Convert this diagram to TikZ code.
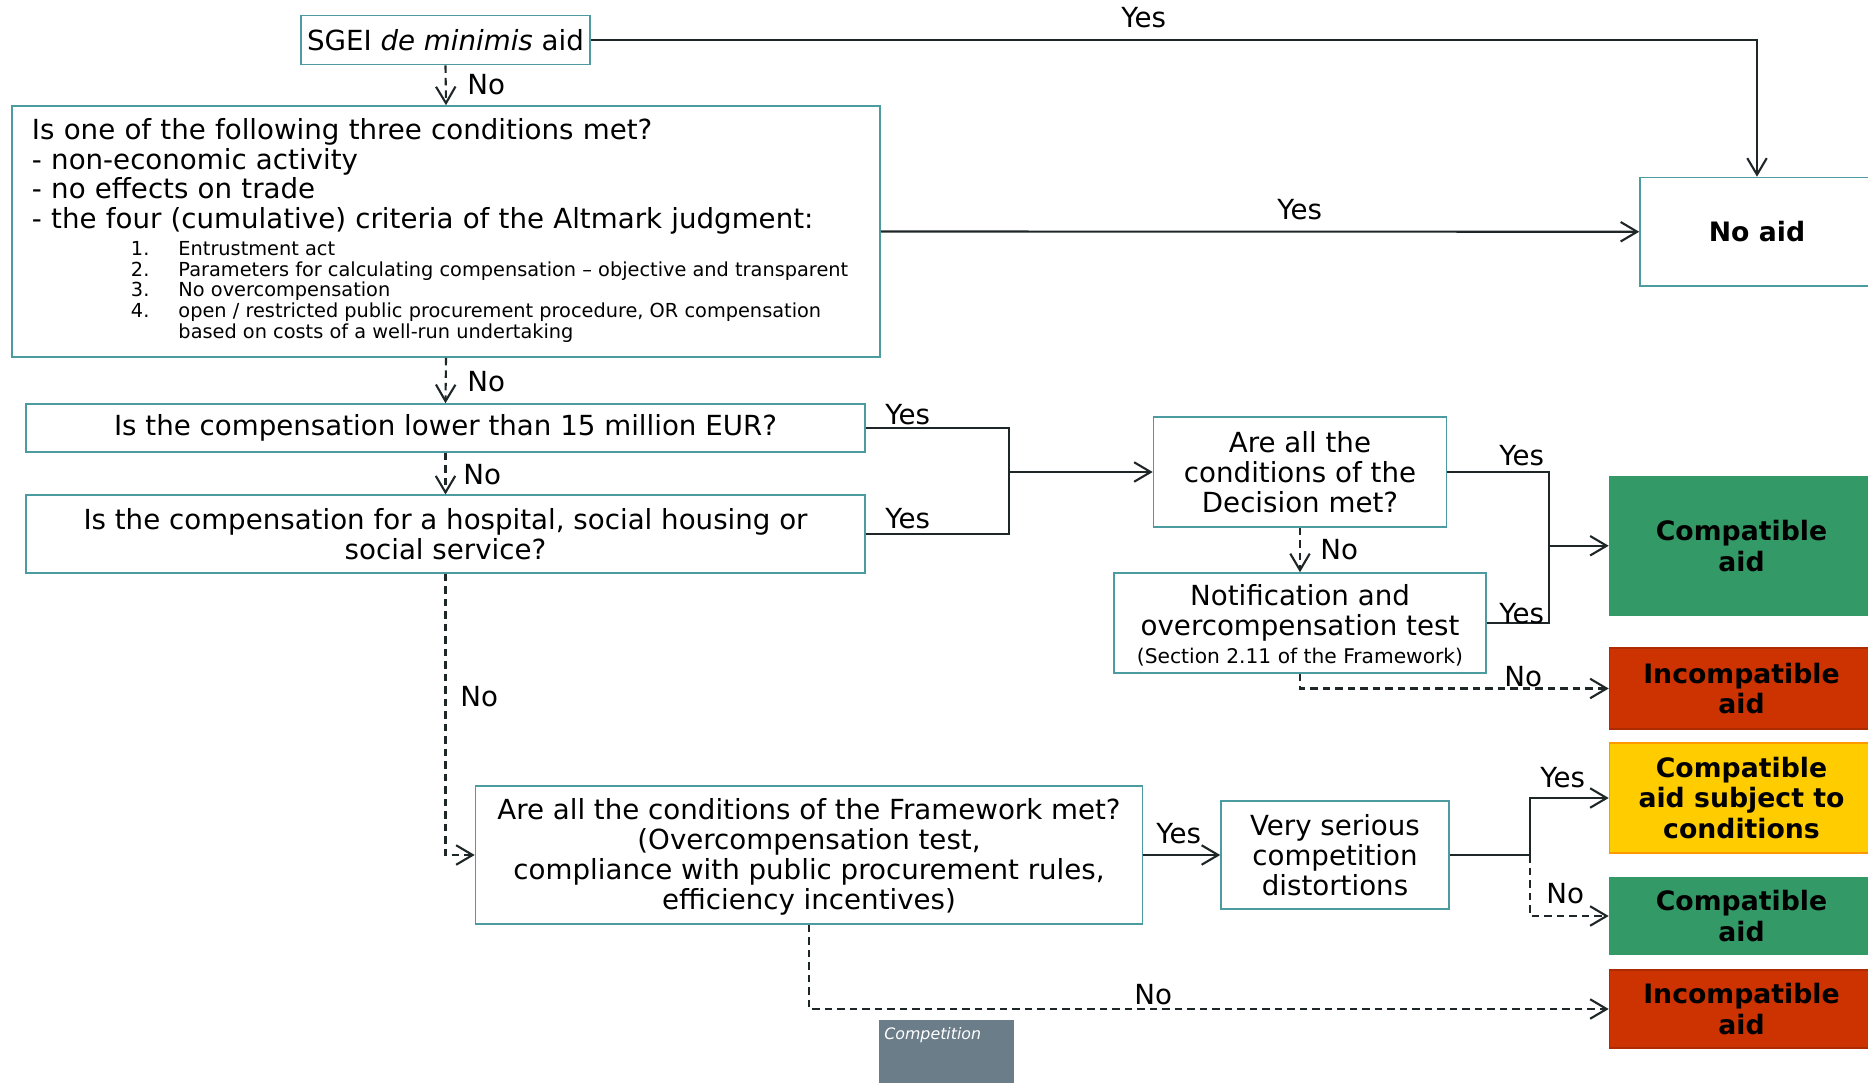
\documentclass[tikz,border=0pt]{standalone}
\usepackage{fontspec}
\setmainfont{DejaVu Sans}
\usetikzlibrary{arrows.meta}

\definecolor{frameline}{RGB}{75,155,160}
\definecolor{okgreen}{RGB}{51,153,102}
\definecolor{badred}{RGB}{204,51,0}
\definecolor{condyellow}{RGB}{255,204,0}
\definecolor{condorange}{RGB}{255,153,0}
\definecolor{slategray}{RGB}{107,125,137}
\definecolor{wire}{RGB}{30,38,40}

\begin{document}
\begin{tikzpicture}[x = 0.2mm, y = -0.2mm, font = \fontsize{15.75}{17}\selectfont,
        box/.style = {draw = frameline, line width = 0.9pt, align = center, inner sep = 0pt},
        verdict/.style = {draw, line width = 0.9pt, align = center, inner sep = 0pt,
                font = \fontsize{15.2}{17.6}\selectfont\bfseries, minimum width = 52.8mm},
        yesline/.style = {draw = wire, line width = 1.2pt, -{Straight Barb[length = 3.3mm, width = 3.9mm]}},
        noline/.style = {yesline, dash pattern = on 1.5mm off 1mm},
        link/.style = {draw = wire, line width = 1.2pt},
        lbl/.style = {anchor = west, inner sep = 0pt}]
        \useasboundingbox (0,0) rectangle (1868,1082);

        \node [box, minimum width = 57.8mm, minimum height = 9.8mm] (sgei) at (445.5,40) {SGEI \textit{de minimis} aid};

        \node [box, minimum width = 173.6mm, minimum height = 50.2mm, inner xsep = 4mm,
                text width = 165.6mm, align = left] (cond) at (446,231.5) {Is one of the following three conditions met?\\
                - non-economic activity\\
                - no effects on trade\\
                - the four (cumulative) criteria of the Altmark judgment:\\[-2pt]
                {\fontsize{11}{11.7}\selectfont\spaceskip = 0pt \xspaceskip = 0pt
                \begin{tabular}[t]{@{\hspace{19.8mm}}p{9.5mm}@{}l@{}}
                        1. & Entrustment act\\
                        2. & Parameters for calculating compensation -- objective and transparent\\
                        3. & No overcompensation\\
                        4. & open / restricted public procurement procedure, OR compensation\\
                           & based on costs of a well-run undertaking
                \end{tabular}}};

        \node [box, minimum width = 46.8mm, minimum height = 21.7mm, font = \fontsize{15.2}{17}\selectfont\bfseries] (noaid) at (1757,231.75) {No aid};

        \node [box, minimum width = 167.8mm, minimum height = 9.6mm] (lowcomp) at (445.5,428) {Is the compensation lower than 15 million EUR?};
        \node [box, minimum width = 167.8mm, minimum height = 15.5mm] (social) at (445.5,534) {Is the compensation for a hospital, social housing or\\ social service?};

        \node [box, minimum width = 58.6mm, minimum height = 22mm] (decision) at (1300,472) {Are all the\\ conditions of the\\ Decision met?};
        \node [box, minimum width = 74.4mm, minimum height = 20mm] (notify) at (1300,623) {\rule{0pt}{15pt}Notification and\\ overcompensation test\\[-1pt]
                {\fontsize{11.5}{12}\selectfont\spaceskip = 0pt \xspaceskip = 0pt (Section 2.11 of the Framework)}};

        \node [box, minimum width = 133.4mm, minimum height = 27.6mm] (framework) at (809,855) {\rule{0pt}{14pt}Are all the conditions of the Framework met?\\ (Overcompensation test,\\ compliance with public procurement rules,\\ efficiency incentives)};
        \node [box, minimum width = 45.6mm, minimum height = 21.6mm] (serious) at (1335,855) {Very serious\\ competition\\ distortions};

        \node [verdict, draw = okgreen, fill = okgreen, minimum height = 27.7mm] (compat) at (1741.5,545.75) {Compatible\\ aid};
        \node [verdict, draw = badred!85!black, fill = badred, minimum height = 16.2mm] (incompat) at (1741.5,688.5) {Incompatible\\ aid};
        \node [verdict, draw = condorange, fill = condyellow, minimum height = 22mm] (condaid) at (1741.5,798) {Compatible\\ aid subject to\\ conditions};
        \node [verdict, draw = okgreen, fill = okgreen, minimum height = 15.2mm] (compatb) at (1741.5,916) {Compatible\\ aid};
        \node [verdict, draw = badred!85!black, fill = badred, minimum height = 15.6mm] (incompatb) at (1741.5,1009) {Incompatible\\ aid};

        \node [fill = slategray, minimum width = 27mm, minimum height = 14mm, inner sep = 0pt] (tag) at (946.5,1055) {};
        \node [lbl, text = white, font = \fontsize{9}{10}\selectfont\itshape] (tagtext) at (884,1035) {Competition};

        \coordinate (split) at (1009,472);
        \coordinate (merge) at (1549,545.75);
        \coordinate (fork) at (1530,855);

        \draw [yesline] (sgei.east) -| (noaid.north);
        \draw [noline] (sgei.south) -- (cond.north);
        \draw [yesline] (cond.east) -- (noaid.west);
        \draw [noline] (cond.south) -- (lowcomp.north);
        \draw [noline] (lowcomp.south) -- (social.north);
        \draw [link] (lowcomp.east) -| (split) |- (social.east);
        \draw [yesline] (split) -- (decision.west);
        \draw [link] (decision.east) -| (merge) |- (notify.east);
        \draw [yesline] (merge) -- (compat.west);
        \draw [noline] (decision.south) -- (notify.north);
        \draw [noline] (notify.south) |- (incompat.west);
        \draw [noline] (social.south) |- (framework.west);
        \draw [yesline] (framework.east) -- (serious.west);
        \draw [link] (serious.east) -- (fork);
        \draw [yesline] (fork) |- (condaid.west);
        \draw [noline] (fork) |- (compatb.west);
        \draw [noline] (framework.south) |- (incompatb.west);

        \node [lbl] (yes1) at (1121,18) {Yes};
        \node [lbl] (no1) at (467,85) {No};
        \node [lbl] (yes2) at (1277,210) {Yes};
        \node [lbl] (no2) at (467,382) {No};
        \node [lbl] (no3) at (463,475) {No};
        \node [lbl] (yes3) at (885,414.5) {Yes};
        \node [lbl] (yes4) at (885,519) {Yes};
        \node [lbl] (yes5) at (1499,456) {Yes};
        \node [lbl] (yes6) at (1499,613.5) {Yes};
        \node [lbl] (no4) at (1320,550) {No};
        \node [lbl] (no5) at (1504,677) {No};
        \node [lbl] (no6) at (460,697) {No};
        \node [lbl] (yes7) at (1156,834) {Yes};
        \node [lbl] (yes8) at (1540,778) {Yes};
        \node [lbl] (no7) at (1546,893.5) {No};
        \node [lbl] (no8) at (1134,995) {No};
\end{tikzpicture}
\end{document}
